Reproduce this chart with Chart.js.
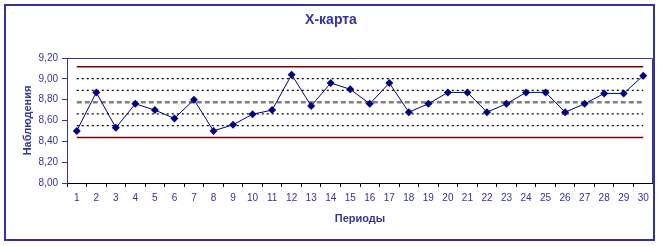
<!DOCTYPE html>
<html>
<head>
<meta charset="utf-8">
<script src="https://cdn.jsdelivr.net/npm/chart.js@4/dist/chart.umd.min.js"></script>
<style>
  body { margin: 0; background: #fff; }
  canvas { display: block; }
</style>
</head>
<body>
<canvas id="xchart" width="662" height="246"></canvas>
<script>
// периоды и наблюдения
const periods = ["1","2","3","4","5","6","7","8","9","10","11","12","13","14","15","16","17","18","19","20","21","22","23","24","25","26","27","28","29","30"];
const observations = [8.50, 8.87, 8.53, 8.76, 8.70, 8.62, 8.80, 8.50, 8.56, 8.66, 8.70, 9.04, 8.74, 8.96, 8.90, 8.76, 8.96, 8.68, 8.76, 8.87, 8.87, 8.68, 8.76, 8.87, 8.87, 8.68, 8.76, 8.86, 8.86, 9.03];

// границы: UCL, +2s, +1s, CL, -1s, -2s, LCL
const limitValues = [9.115, 9.002, 8.889, 8.776, 8.663, 8.550, 8.437];
const limitKinds  = ["limit", "dot", "dot", "center", "dot", "dot", "limit"];

const yTicks = [8.0, 8.2, 8.4, 8.6, 8.8, 9.0, 9.2];

const navy = '#333399';
const font = 'Liberation Sans, Arial, sans-serif';

function limitStyle(kind) {
    if (kind === 'limit') return { borderColor: '#800000', borderWidth: 1.5, borderDash: [] };
    if (kind === 'center') return { borderColor: '#808080', borderWidth: 2.5, borderDash: [5, 3] };
    return { borderColor: '#000000', borderWidth: 1.2, borderDash: [2, 3] };
}

const datasets = [{
    label: 'X',
    data: observations,
    borderColor: '#000080',
    backgroundColor: '#000080',
    borderWidth: 1,
    pointStyle: 'rectRot',
    pointRadius: 4,
    pointBorderWidth: 0,
    tension: 0,
    order: 0
}];

limitValues.forEach(function (v, i) {
    const s = limitStyle(limitKinds[i]);
    datasets.push({
        label: 'L' + i,
        data: periods.map(function () { return v; }),
        borderColor: s.borderColor,
        borderWidth: s.borderWidth,
        borderDash: s.borderDash,
        pointRadius: 0,
        fill: false,
        order: 1 + i
    });
});

// рамка диаграммы и области построения
const framePlugin = {
    id: 'frame',
    afterDraw: function (chart) {
        const c = chart.ctx, a = chart.chartArea;
        c.save();
        c.strokeStyle = navy;
        c.lineWidth = 1;
        c.beginPath();
        c.moveTo(a.left, a.top + 0.5);
        c.lineTo(a.right - 0.5, a.top + 0.5);
        c.lineTo(a.right - 0.5, a.bottom);
        c.stroke();
        c.lineWidth = 2;
        c.strokeRect(5, 5, 649, 235);
        c.restore();
    }
};

new Chart(document.getElementById('xchart'), {
    type: 'line',
    data: { labels: periods, datasets: datasets },
    plugins: [framePlugin],
    options: {
        responsive: false,
        animation: false,
        layout: { padding: { left: 9, right: 9, top: 0, bottom: 0 } },
        plugins: {
            legend: { display: false },
            tooltip: { enabled: false },
            title: {
                display: true,
                text: 'X-карта',
                color: '#3333a6',
                font: { family: font, size: 14, weight: 'bold' },
                padding: { top: 12, bottom: 29.2 }
            }
        },
        scales: {
            x: {
                offset: true,
                afterFit: function (s) { s.height = 63; },
                grid: { display: true, offset: true, drawOnChartArea: false, tickLength: 4, color: '#000' },
                border: { color: '#000', width: 1 },
                ticks: { color: navy, font: { family: font, size: 10 }, padding: 5, maxRotation: 0, autoSkip: false },
                title: {
                    display: true,
                    text: 'Периоды',
                    color: navy,
                    font: { family: font, size: 11, weight: 'bold' },
                    padding: { top: 0, bottom: 20 }
                }
            },
            y: {
                min: 8,
                max: 9.2,
                afterFit: function (s) { s.width = 58; },
                afterBuildTicks: function (s) { s.ticks = yTicks.map(function (v) { return { value: v }; }); },
                grid: { drawOnChartArea: false, tickLength: 5, color: navy },
                border: { color: navy, width: 1 },
                ticks: {
                    color: navy,
                    font: { family: font, size: 10 },
                    padding: 4,
                    callback: function (v) { return Number(v).toFixed(2).replace('.', ','); }
                },
                title: {
                    display: true,
                    text: 'Наблюдения',
                    color: navy,
                    font: { family: font, size: 11, weight: 'bold' },
                    padding: { top: 12, bottom: 0 }
                }
            }
        }
    }
});
</script>
</body>
</html>
